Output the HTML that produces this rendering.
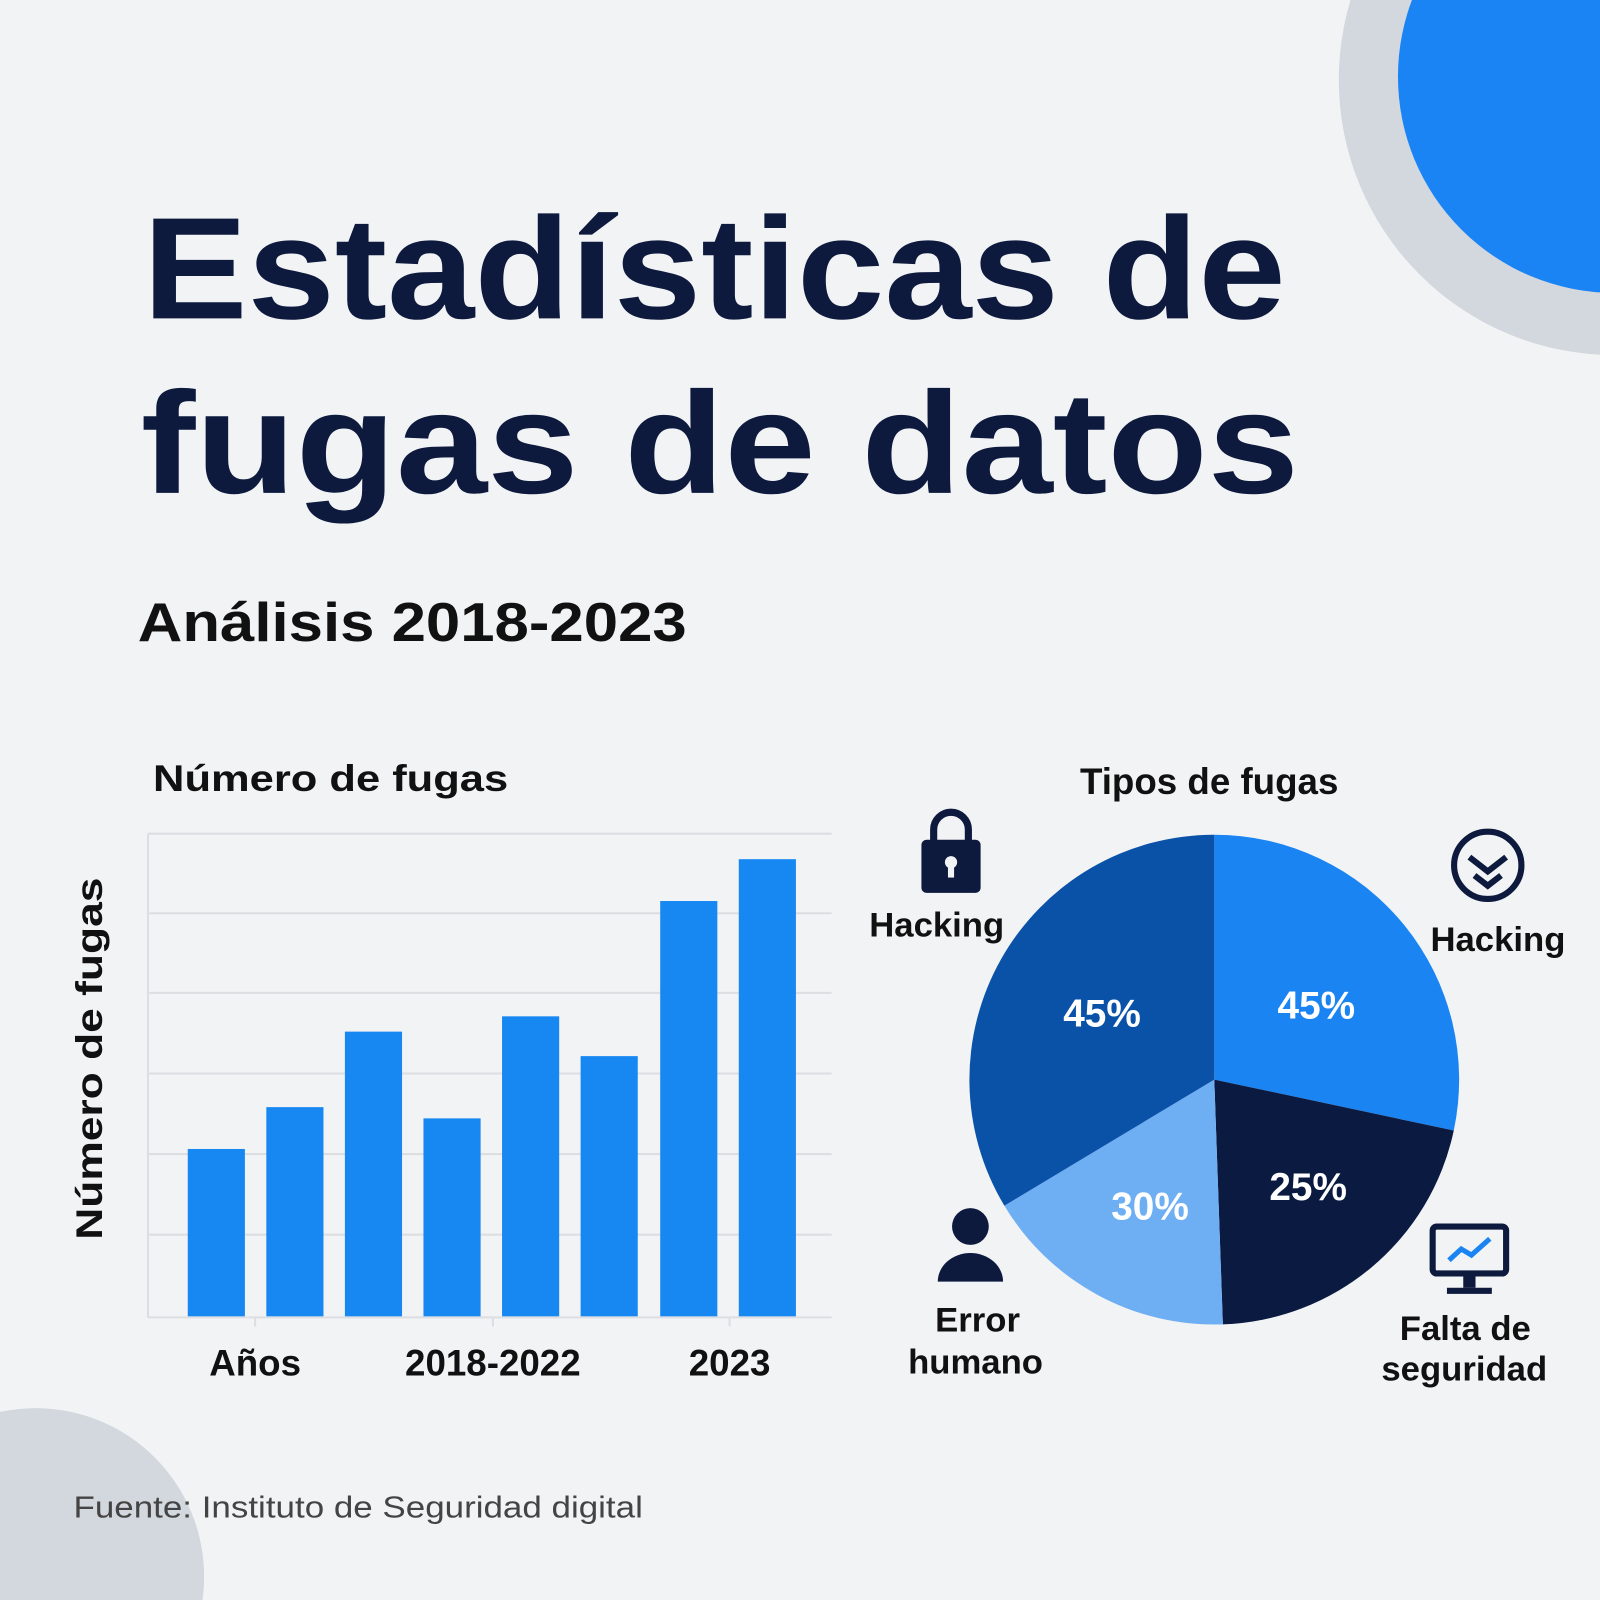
<!DOCTYPE html>
<html><head><meta charset="utf-8"><style>
html,body{margin:0;padding:0;background:#f3f4f6;width:1600px;height:1600px;overflow:hidden}
svg{display:block}
text{font-family:"Liberation Sans",sans-serif;font-weight:bold}
</style></head><body>
<svg width="1600" height="1600" viewBox="0 0 1568 1568" xmlns="http://www.w3.org/2000/svg">
<rect width="1568" height="1568" fill="#f2f3f5"/>
<circle cx="1582" cy="78" r="270" fill="#d3d7de"/>
<circle cx="1582" cy="75" r="212" fill="#1a84f5"/>
<circle cx="35" cy="1545" r="165" fill="#d3d7de"/>

<text x="140" y="312" font-size="142" fill="#0d1a3d" textLength="1120" lengthAdjust="spacingAndGlyphs">Estadísticas de</text>
<text x="138" y="483" font-size="142" fill="#0d1a3d" textLength="1135" lengthAdjust="spacingAndGlyphs">fugas de datos</text>
<text x="135" y="628" font-size="54" fill="#111" textLength="538" lengthAdjust="spacingAndGlyphs">Análisis 2018-2023</text>

<text x="150" y="775" font-size="36" fill="#111" textLength="348" lengthAdjust="spacingAndGlyphs">Número de fugas</text>
<text transform="translate(100,1215) rotate(-90)" x="0" y="0" font-size="36" fill="#111" textLength="355" lengthAdjust="spacingAndGlyphs">Número de fugas</text>

<g stroke="#dcdee2" stroke-width="2">
<line x1="145" y1="817" x2="815" y2="817"/>
<line x1="145" y1="895" x2="815" y2="895"/>
<line x1="145" y1="973" x2="815" y2="973"/>
<line x1="145" y1="1052" x2="815" y2="1052"/>
<line x1="145" y1="1131" x2="815" y2="1131"/>
<line x1="145" y1="1210" x2="815" y2="1210"/>
<line x1="145" y1="817" x2="145" y2="1291"/>
<line x1="145" y1="1291" x2="815" y2="1291"/>
<line x1="250" y1="1291" x2="250" y2="1300"/>
<line x1="483" y1="1291" x2="483" y2="1300"/>
<line x1="715" y1="1291" x2="715" y2="1300"/>
</g>
<g fill="#1787f2">
<rect x="184" y="1126" width="56" height="164"/>
<rect x="261" y="1085" width="56" height="205"/>
<rect x="338" y="1011" width="56" height="279"/>
<rect x="415" y="1096" width="56" height="194"/>
<rect x="492" y="996" width="56" height="294"/>
<rect x="569" y="1035" width="56" height="255"/>
<rect x="647" y="883" width="56" height="407"/>
<rect x="724" y="842" width="56" height="448"/>
</g>
<g font-size="36" fill="#111" text-anchor="middle">
<text x="250" y="1348">Años</text>
<text x="483" y="1348">2018-2022</text>
<text x="715" y="1348">2023</text>
</g>

<text x="1185" y="778" font-size="36" fill="#111" text-anchor="middle">Tipos de fugas</text>
<path d="M1190 1058 L1190 818 A240 240 0 0 1 1424.7 1107.9 Z" fill="#1a84f2"/>
<path d="M1190 1058 L1424.7 1107.9 A240 240 0 0 1 1198.4 1297.9 Z" fill="#0b1a40"/>
<path d="M1190 1058 L1198.4 1297.9 A240 240 0 0 1 984.3 1181.6 Z" fill="#6eaef3"/>
<path d="M1190 1058 L984.3 1181.6 A240 240 0 0 1 1190 818 Z" fill="#0a52a8"/>
<g font-size="38" fill="#fff" text-anchor="middle">
<text x="1080" y="1006">45%</text>
<text x="1290" y="998">45%</text>
<text x="1282" y="1176">25%</text>
<text x="1127" y="1195">30%</text>
</g>

<path d="M915 825 v-12 a17 17 0 0 1 34 0 v12" fill="none" stroke="#0d1a3d" stroke-width="7"/>
<rect x="903" y="823" width="58" height="52" rx="5" fill="#0d1a3d"/>
<circle cx="932" cy="845" r="6" fill="#f2f3f5"/><rect x="929" y="846" width="6" height="14" fill="#f2f3f5"/>
<text x="918" y="918" font-size="34" fill="#111" text-anchor="middle">Hacking</text>
<circle cx="1458" cy="848" r="33" fill="none" stroke="#0d1a3d" stroke-width="6"/>
<path d="M1440 840 l18 14 l18 -14 M1445 858 l13 10 l13 -10" fill="none" stroke="#0d1a3d" stroke-width="6"/>
<text x="1468" y="932" font-size="34" fill="#111" text-anchor="middle">Hacking</text>
<circle cx="951" cy="1202" r="18" fill="#0d1a3d"/>
<path d="M919 1256 a32 28 0 0 1 64 0 z" fill="#0d1a3d"/>
<text x="958" y="1305" font-size="34" fill="#111" text-anchor="middle">Error</text>
<text x="956" y="1346" font-size="34" fill="#111" text-anchor="middle">humano</text>
<rect x="1404" y="1202" width="72" height="46" rx="4" fill="none" stroke="#0d1a3d" stroke-width="6"/>
<polyline points="1420,1235 1432,1224 1442,1230 1460,1214" fill="none" stroke="#1a84f2" stroke-width="5"/>
<rect x="1434" y="1248" width="12" height="14" fill="#0d1a3d"/>
<rect x="1418" y="1262" width="44" height="6" fill="#0d1a3d"/>
<text x="1436" y="1313" font-size="34" fill="#111" text-anchor="middle">Falta de</text>
<text x="1435" y="1353" font-size="34" fill="#111" text-anchor="middle">seguridad</text>

<text x="72" y="1487" font-size="30" style="font-weight:normal" fill="#444" textLength="558" lengthAdjust="spacingAndGlyphs">Fuente: Instituto de Seguridad digital</text>
</svg>
</body></html>
